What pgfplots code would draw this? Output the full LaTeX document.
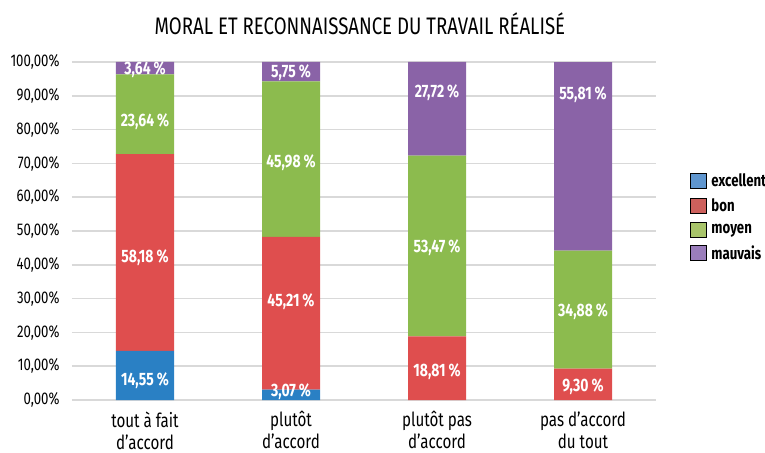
\documentclass[border=0pt]{standalone}
\usepackage{fontspec}
\setmainfont{Fira Sans}[FakeStretch=0.78]
\usepackage{pgfplots}
\pgfplotsset{compat=1.18}
\usepackage{pgfplotstable}

\definecolor{cexc}{HTML}{2A80C4}
\definecolor{cbon}{HTML}{DF4E4E}
\definecolor{cmoy}{HTML}{8CBB4E}
\definecolor{cmau}{HTML}{8A63A7}
\definecolor{lexc}{HTML}{5F96CF}
\definecolor{lbon}{HTML}{CD605C}
\definecolor{lmoy}{HTML}{A8C46A}
\definecolor{lmau}{HTML}{9A7DBB}

% parts in %, one table for each answer
\pgfplotstableread{
x v
0 14.55
1 3.07
2 0
3 0
}\excellent
\pgfplotstableread{
x v
0 58.18
1 45.21
2 18.81
3 9.30
}\bon
\pgfplotstableread{
x v
0 23.64
1 45.98
2 53.47
3 34.88
}\moyen
\pgfplotstableread{
x v
0 3.64
1 5.75
2 27.72
3 55.81
}\mauvais
% where the printed values sit (height in %)
\pgfplotstableread{
x pos lab
0 5.6 14,55\,\%
0 42.0 58,18\,\%
0 82.3 23,64\,\%
0 97.6 3,64\,\%
1 2.4 3,07\,\%
1 29.1 45,21\,\%
1 70.1 45,98\,\%
1 97.0 5,75\,\%
2 8.4 18,81\,\%
2 45.0 53,47\,\%
2 90.9 27,72\,\%
3 3.9 9,30\,\%
3 26.1 34,88\,\%
3 90.2 55,81\,\%
}\labels

\pgfplotsset{
  base/.style={
    at={(0,0)}, anchor=south west,
    scale only axis,
    width=584bp, height=338bp,
    xmin=-0.5, xmax=3.5,
    ymin=0, ymax=100,
  }
}

\begin{document}
\begin{tikzpicture}
\path[use as bounding box] (-72bp,-53bp) rectangle (693bp,400bp);
\begin{axis}[
    base,
    ybar stacked, bar width=58bp,
    xtick={0,1,2,3},
    xticklabels={{tout à fait\\d’accord},{plutôt\\d’accord},{plutôt pas\\d’accord},{pas d’accord\\du tout}},
    ytick={0,10,...,100},
    yticklabel={\pgfmathprintnumber[fixed,fixed zerofill,precision=2,use comma,1000 sep={}]{\tick}\%},
    /pgf/number format/assume math mode=true,
    yticklabel style={font=\fontsize{17}{17}\selectfont, xshift=-9bp},
    xticklabel style={align=center, font=\fontsize{19.5}{22}\selectfont, yshift=-8bp},
    axis line style={draw=none},
    tick style={draw=none},
    ymajorgrids,
    grid style={color=black!15, line width=1.5pt},
    title={MORAL ET RECONNAISSANCE DU TRAVAIL RÉALISÉ},
    title style={font=\fontsize{24}{24}\selectfont, at={(0.493,1)}, anchor=south, yshift=18bp},
    legend style={at={(1.058,0.675)}, anchor=north west, draw=none, fill=none, inner sep=0pt,
        font=\bfseries\fontsize{17}{17}\selectfont, row sep=6.5bp, cells={anchor=west},
        /tikz/every odd column/.append style={column sep=3bp}},
    legend image code/.code={\fill[#1] (0bp,-7bp) rectangle (16bp,8bp);},
]
\addplot[draw=none, fill=cexc, forget plot] table[x=x, y=v] {\excellent};
\addplot[draw=none, fill=cbon, forget plot] table[x=x, y=v] {\bon};
\addplot[draw=none, fill=cmoy, forget plot] table[x=x, y=v] {\moyen};
\addplot[draw=none, fill=cmau, forget plot] table[x=x, y=v] {\mauvais};
\addlegendimage{fill=lexc}
\addlegendentry{excellent}
\addlegendimage{fill=lbon}
\addlegendentry{bon}
\addlegendimage{fill=lmoy}
\addlegendentry{moyen}
\addlegendimage{fill=lmau}
\addlegendentry{mauvais}
\end{axis}
\begin{axis}[
    base,
    axis lines=none,
    clip=false,
]
\addplot[draw=none, mark=none, point meta=explicit symbolic,
    nodes near coords,
    every node near coord/.append style={anchor=center, text=white,
        font=\bfseries\fontsize{18}{18}\selectfont}]
    table[x=x, y=pos, meta=lab] {\labels};
\end{axis}
\end{tikzpicture}
\end{document}
